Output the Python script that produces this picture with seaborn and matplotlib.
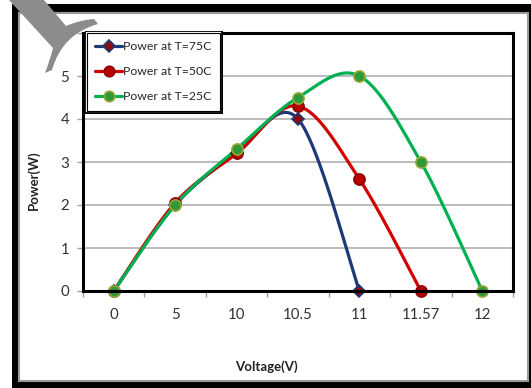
import numpy as np
import matplotlib
matplotlib.use("Agg")
import matplotlib.pyplot as plt
import seaborn as sns
from matplotlib.patches import Rectangle, PathPatch
from matplotlib.path import Path
from matplotlib.lines import Line2D
import matplotlib.patheffects as pe

# Categories on the voltage axis and measured power for each temperature
voltage_labels = ["0", "5", "10", "10.5", "11", "11.57", "12"]
power_75 = [0, 2.0, 3.2, 4.0, 0]
power_50 = [0, 2.05, 3.2, 4.3, 2.6, 0]
power_25 = [0, 2.0, 3.3, 4.5, 5.0, 3.0, 0]
series_names = ["Power at T=75C", "Power at T=50C", "Power at T=25C"]

sns.set_theme(style="white")
plt.rcParams["font.family"] = ["Liberation Sans Narrow", "Lato", "DejaVu Sans"]

W, H = 531, 388
fig = plt.figure(figsize=(W / 100, H / 100), dpi=100)
fig.patch.set_facecolor("white")


def px(x, y):
    return x / W, 1 - y / H


def smooth(values, n=40):
    """Bezier smoothing through the points using Catmull-Rom style control points."""
    pts = np.column_stack([np.arange(len(values), dtype=float), np.asarray(values, float)])
    out = []
    for i in range(len(pts) - 1):
        p0 = pts[i - 1] if i > 0 else pts[i]
        p1, p2 = pts[i], pts[i + 1]
        p3 = pts[i + 2] if i + 2 < len(pts) else pts[i + 1]
        c1 = p1 + (p2 - p0) / 6
        c2 = p2 - (p3 - p1) / 6
        t = np.linspace(0, 1, n)[:, None]
        seg = (1 - t) ** 3 * p1 + 3 * (1 - t) ** 2 * t * c1 + 3 * (1 - t) * t ** 2 * c2 + t ** 3 * p2
        out.append(seg if i == 0 else seg[1:])
    out = np.vstack(out)
    return out[:, 0], out[:, 1]


# Outer black frame of the picture
fig.add_artist(Rectangle(px(12, 388), (W - 12) / W, (388 - 4) / H,
                         transform=fig.transFigure, facecolor="black", edgecolor="none", zorder=-2))
fig.add_artist(Rectangle(px(19, 381), (528 - 19) / W, (381 - 13) / H,
                         transform=fig.transFigure, facecolor="white", edgecolor="#9a9a9a",
                         linewidth=1.5, zorder=-1))

ax = fig.add_axes([83 / W, 1 - 291 / H, (513 - 83) / W, (291 - 33) / H])
ax.set_zorder(1)
ax.set_facecolor("white")

styles = [
    dict(data=power_75, line="#1c3a78", marker="D", mfc="#8b0a0a", mec="#1c3a78", ms=6.5),
    dict(data=power_50, line="#d40000", marker="o", mfc="#b80000", mec="#8a0000", ms=8),
    dict(data=power_25, line="#00b050", marker="o", mfc="#2f9a3a", mec="#9aa535", ms=8),
]

handles = []
for name, st in zip(series_names, styles):
    sx, sy = smooth(st["data"])
    sns.lineplot(x=sx, y=sy, sort=False, estimator=None, color=st["line"],
                 linewidth=2.3, ax=ax, zorder=3)
    xs = np.arange(len(st["data"]))
    ax.plot(xs, st["data"], linestyle="none", marker=st["marker"], markersize=st["ms"],
            markerfacecolor=st["mfc"], markeredgecolor=st["mec"], markeredgewidth=1.2,
            zorder=4, clip_on=False)
    handles.append(Line2D([], [], color=st["line"], linewidth=2.3, marker=st["marker"],
                          markersize=st["ms"] - 0.5, markerfacecolor=st["mfc"],
                          markeredgecolor=st["mec"], markeredgewidth=1.2))

ax.set_xlim(-0.5, len(voltage_labels) - 0.5)
ax.set_ylim(0, 6)
ax.set_xticks(range(len(voltage_labels)))
ax.set_xticklabels(voltage_labels)
ax.set_xticks(np.arange(-0.5, len(voltage_labels), 1.0), minor=True)
ax.set_yticks(range(7))
ax.tick_params(axis="x", which="major", length=0, pad=12, labelsize=10.8, labelcolor="#333333")
ax.tick_params(axis="x", which="minor", length=4, width=1, color="#a0a0a0", direction="out",
               bottom=True)
ax.tick_params(axis="y", length=4, width=1, color="#a0a0a0", direction="out", left=True,
               pad=6, labelsize=10.8, labelcolor="#333333")
ax.grid(axis="y", color="#aaaaaa", linewidth=1.1)
ax.set_axisbelow(True)
for sp in ax.spines.values():
    sp.set_color("black")
    sp.set_linewidth(2.2)
    sp.set_zorder(5)

ax.set_xlabel("Voltage(V)", fontsize=9.5, fontweight="bold", color="#222222")
ax.set_ylabel("Power(W)", fontsize=9.5, fontweight="bold", color="#222222")
ax.xaxis.set_label_coords(0.426, -0.267)
ax.yaxis.set_label_coords(-0.1, 0.43)

leg = ax.legend(handles, series_names, loc="upper left", bbox_to_anchor=(0.009, 1.0),
                borderaxespad=0, fontsize=8.8, frameon=True, fancybox=False,
                edgecolor="black", framealpha=1, handlelength=2.2, handletextpad=0.08,
                labelspacing=1.15, borderpad=0.68)
frame = leg.get_frame()
frame.set_linewidth(0.8)
frame.set_path_effects([pe.Stroke(linewidth=3.6, foreground="black"),
                        pe.Stroke(linewidth=1.6, foreground="white"), pe.Normal()])
leg.set_zorder(6)

# Grey wedge sitting over the top-left corner of the frame
verts = [px(9, 0), px(44, 0), px(66, 26), px(80, 20), px(94, 19), px(98, 24),
         px(62, 34), px(52, 70), px(45, 73), px(50, 60), px(53, 48), px(9, 0)]
codes = [Path.MOVETO, Path.LINETO, Path.LINETO, Path.CURVE3, Path.CURVE3, Path.LINETO,
         Path.CURVE3, Path.CURVE3, Path.LINETO, Path.CURVE3, Path.CURVE3, Path.CLOSEPOLY]
fig.add_artist(PathPatch(Path(verts, codes), transform=fig.transFigure,
                         facecolor="#8c8c8c", edgecolor="none", zorder=10))

fig.savefig("out.png", dpi=100)
